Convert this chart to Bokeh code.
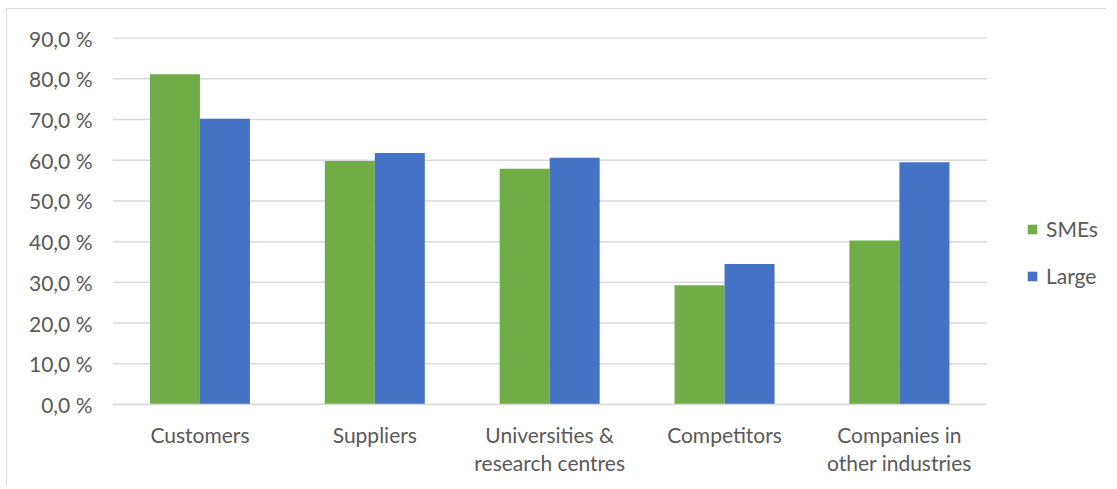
from bokeh.plotting import figure
from bokeh.models import ColumnDataSource, FixedTicker, Legend, LegendItem, Range1d
from bokeh.embed import file_html
from bokeh.resources import INLINE

categories = ["Customers", "Suppliers", "Universities &\nresearch centres", "Competitors", "Companies in\nother industries"]
smes = [81.1, 59.8, 57.9, 29.3, 40.3]
large = [70.2, 61.8, 60.6, 34.5, 59.5]
y_ticks = [0, 10, 20, 30, 40, 50, 60, 70, 80, 90]

FONT = "Lato"
TXT = "#595959"
GREEN = "#70ad47"
BLUE = "#4472c4"
GRID = "#d9d9d9"

n = len(categories)
bw = 0.286
xc = [i + 0.5 for i in range(n)]
src = ColumnDataSource(dict(
    xs=[x - bw / 2 for x in xc],
    xl=[x + bw / 2 for x in xc],
    smes=smes, large=large,
))
grid_src = ColumnDataSource(dict(x0=[0] * len(y_ticks), x1=[n] * len(y_ticks), y=y_ticks))

# frame spans past the last category so that the legend can sit inside it
p = figure(width=1100, height=478, output_backend="svg", toolbar_location=None,
           x_range=Range1d(0, 5.69), y_range=Range1d(0, 90.15),
           min_border_left=105, min_border_right=0, min_border_top=28, min_border_bottom=83)
p.styles = {"border-left": "1px solid #d9d9d9", "border-top": "1px solid #d9d9d9",
            "margin-left": "6px", "margin-top": "8px"}
p.outline_line_color = None
p.xgrid.grid_line_color = None
p.ygrid.grid_line_color = None

p.segment(x0="x0", x1="x1", y0="y", y1="y", source=grid_src, line_color=GRID, line_width=1.5)

r1 = p.vbar(x="xs", top="smes", width=bw, source=src, fill_color=GREEN, line_color=None)
r2 = p.vbar(x="xl", top="large", width=bw, source=src, fill_color=BLUE, line_color=None)

# y axis
p.yaxis.ticker = FixedTicker(ticks=y_ticks)
p.yaxis.major_label_overrides = {t: f"{t:.1f}".replace(".", ",") + " %" for t in y_ticks}
p.yaxis.axis_line_color = None
p.yaxis.major_tick_line_color = None
p.yaxis.minor_tick_line_color = None
p.yaxis.major_tick_out = 0
p.yaxis.major_label_standoff = 20
p.yaxis.major_label_text_font = FONT
p.yaxis.major_label_text_font_size = "21px"
p.yaxis.major_label_text_color = TXT

# x axis
p.xaxis.ticker = FixedTicker(ticks=xc)
p.xaxis.bounds = (0, n)
p.xaxis.major_label_overrides = {x: c for x, c in zip(xc, categories)}
p.xaxis.axis_line_color = GRID
p.xaxis.axis_line_width = 1.5
p.xaxis.major_tick_line_color = None
p.xaxis.minor_tick_line_color = None
p.xaxis.major_tick_out = 0
p.xaxis.major_label_standoff = 17
p.xaxis.major_label_text_font = FONT
p.xaxis.major_label_text_font_size = "21px"
p.xaxis.major_label_text_color = TXT
p.xaxis.major_label_text_line_height = 1.15

legend = Legend(items=[LegendItem(label="SMEs", renderers=[r1]), LegendItem(label="Large", renderers=[r2])],
                location=(914, 116), orientation="vertical")
legend.border_line_color = None
legend.background_fill_alpha = 0
legend.padding = 0
legend.margin = 0
legend.glyph_width = 12
legend.glyph_height = 12
legend.label_standoff = 8
legend.label_height = 20
legend.spacing = 22
legend.label_text_font = FONT
legend.label_text_font_size = "21px"
legend.label_text_color = TXT
p.add_layout(legend, "center")

open("out.html", "w").write(file_html(p, INLINE))
